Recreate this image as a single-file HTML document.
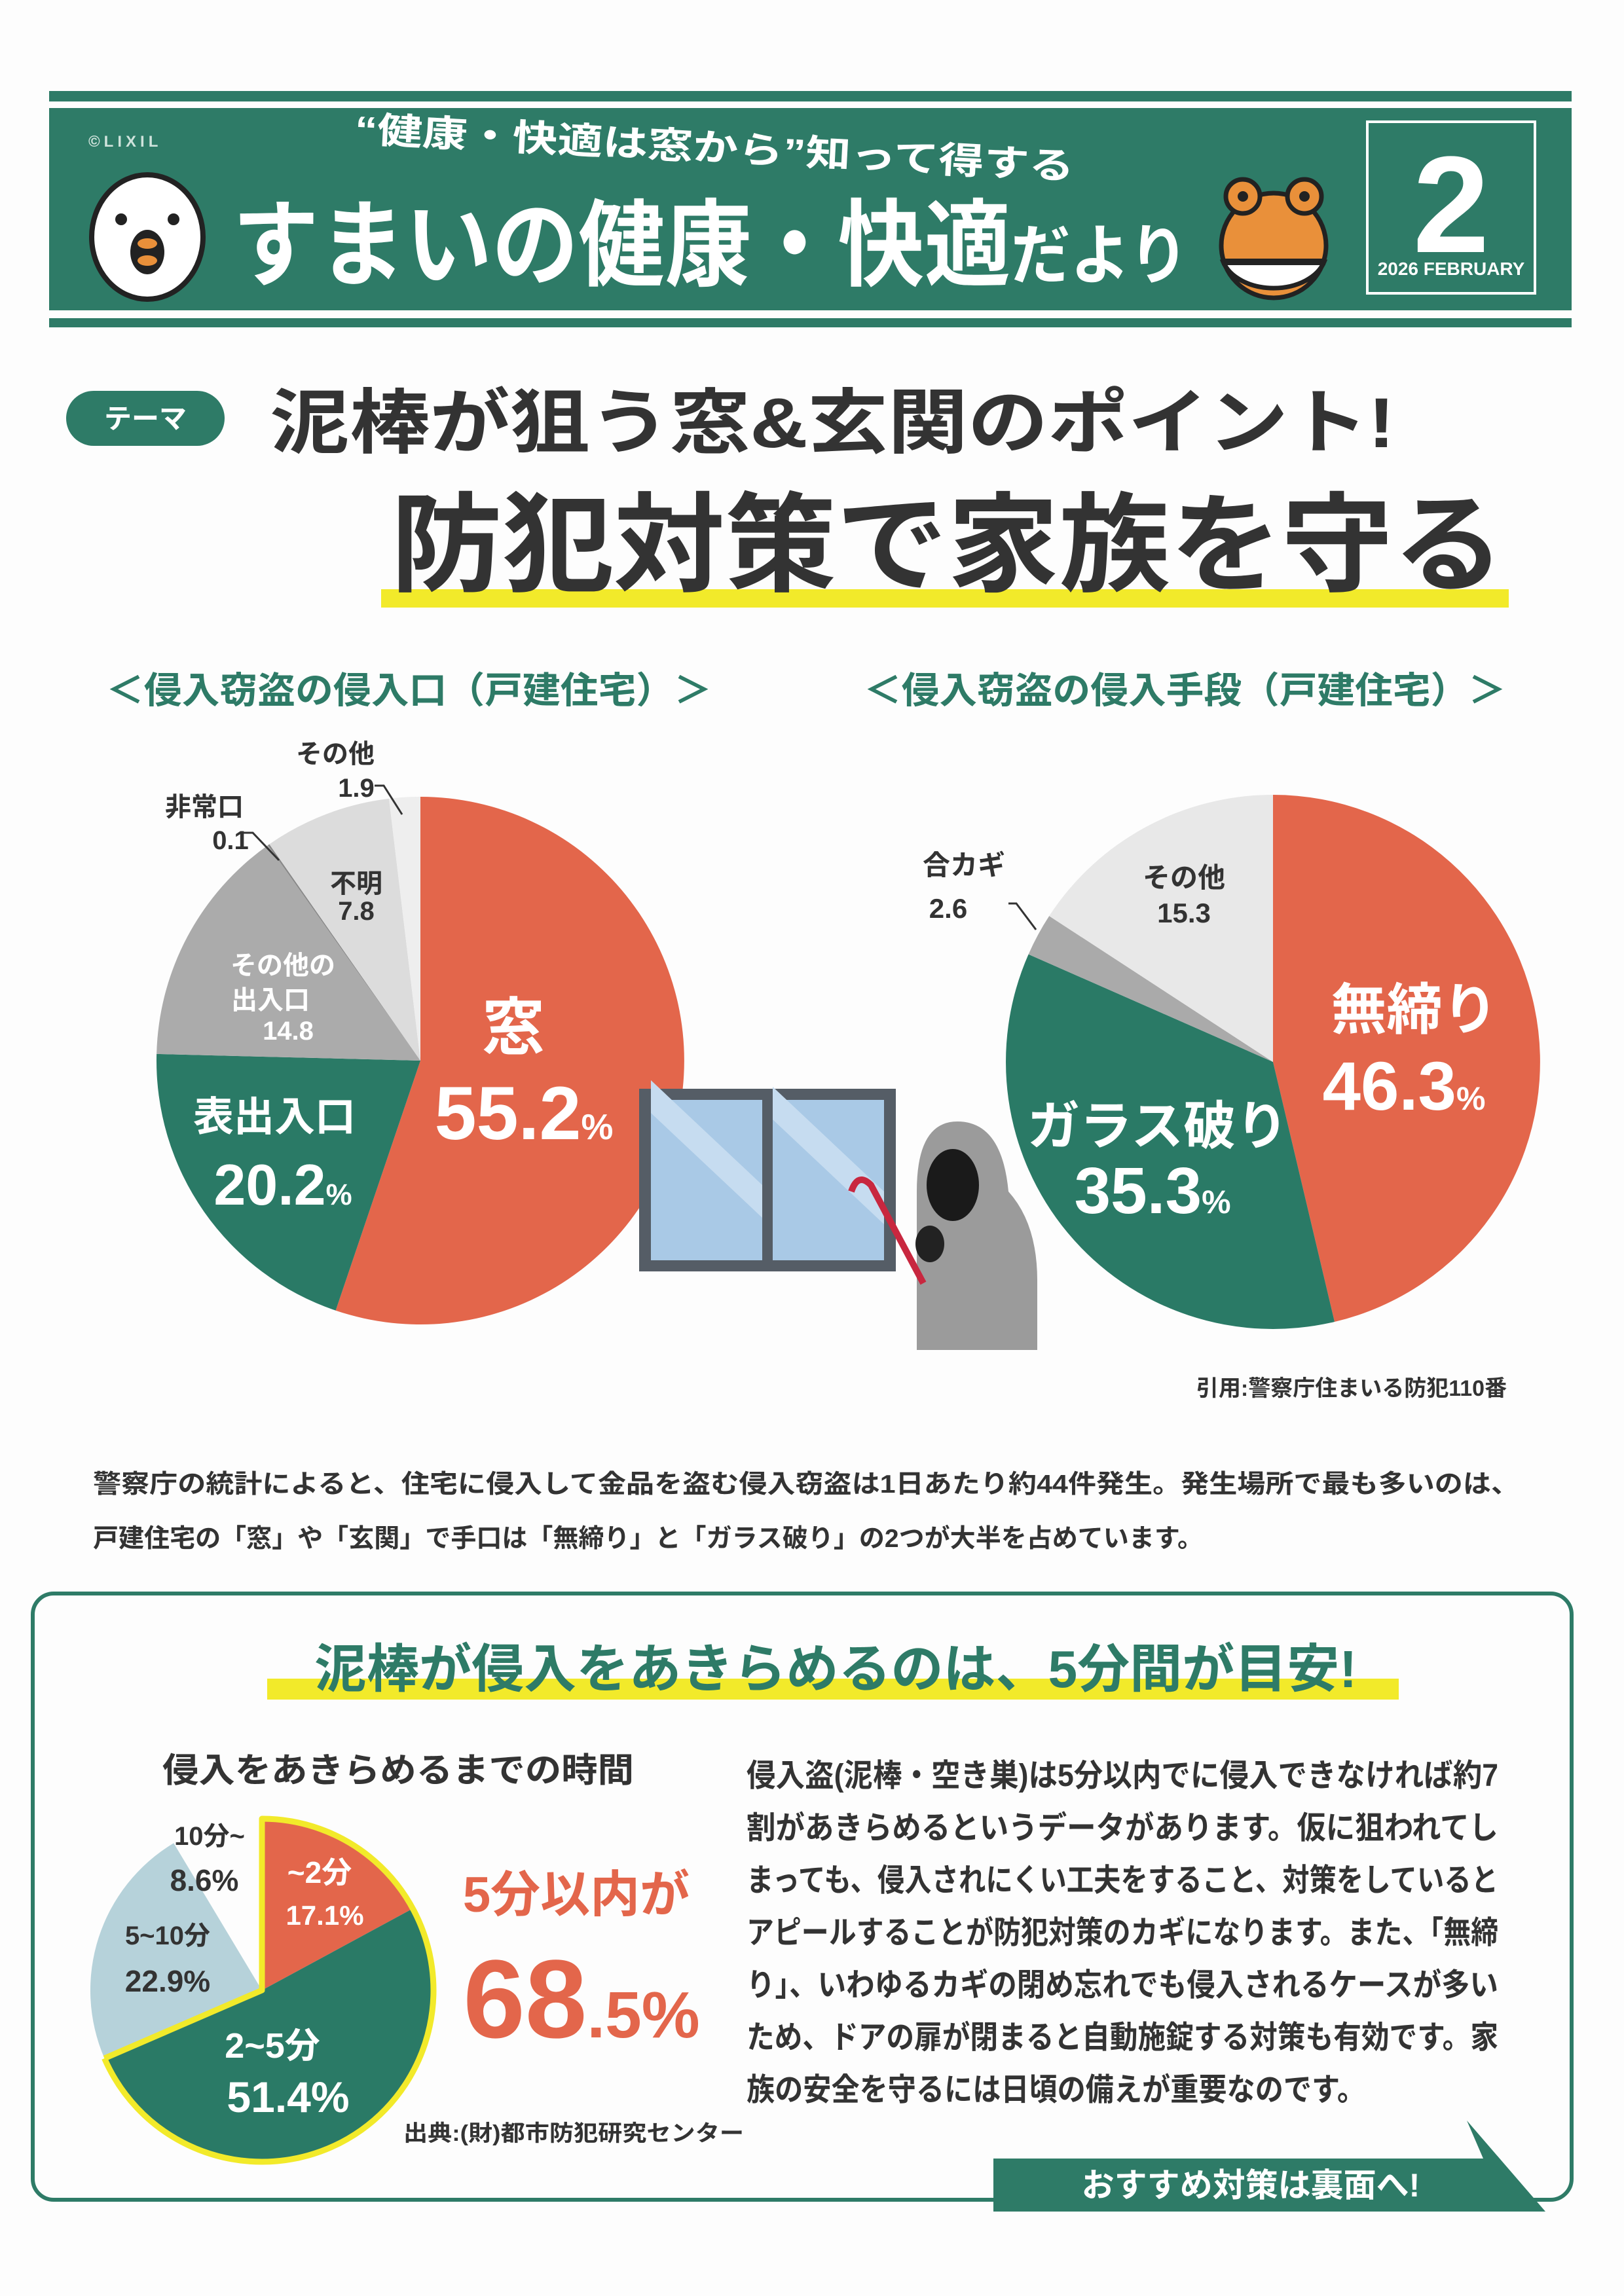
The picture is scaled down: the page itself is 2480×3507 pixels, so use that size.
<!DOCTYPE html>
<html><head><meta charset="utf-8"><style>
html,body{margin:0;padding:0;background:#fff}
svg{display:block}
text{font-family:"Liberation Sans","Noto Sans CJK JP",sans-serif;font-weight:bold}
</style></head><body>
<svg width="2480" height="3507" viewBox="0 0 2480 3507" xmlns="http://www.w3.org/2000/svg">
<rect width="2480" height="3507" fill="#fdfdfd"/>
<!-- header -->
<rect x="75" y="139" width="2325" height="16" fill="#2e7b67"/>
<rect x="75" y="165" width="2325" height="309" fill="#2e7b67"/>
<rect x="75" y="486" width="2325" height="14" fill="#2e7b67"/>
<text x="135" y="224" font-size="24" fill="#cfe3dc" font-weight="normal" letter-spacing="6">©LIXIL</text>
<text x="540" y="245" font-size="56" fill="#fff" textLength="1100" lengthAdjust="spacingAndGlyphs" transform="rotate(3 1090 245)">“健康・快適は窓から”知って得する</text>
<text x="355" y="425" font-size="145" fill="#fff" textLength="1460" lengthAdjust="spacingAndGlyphs">すまいの健康・快適<tspan font-size="100">だより</tspan></text>
<!-- chick -->
<ellipse cx="225" cy="362" rx="85" ry="95" fill="#fff" stroke="#222" stroke-width="8"/>
<circle cx="185" cy="335" r="9" fill="#222"/><circle cx="265" cy="335" r="9" fill="#222"/>
<ellipse cx="225" cy="385" rx="26" ry="34" fill="#222"/>
<ellipse cx="225" cy="372" rx="15" ry="8" fill="#e9903a"/><ellipse cx="225" cy="398" rx="15" ry="8" fill="#e9903a"/>
<!-- frog -->
<ellipse cx="1945" cy="375" rx="80" ry="80" fill="#e9903a" stroke="#222" stroke-width="7"/>
<circle cx="1898" cy="300" r="26" fill="#e9903a" stroke="#222" stroke-width="7"/>
<circle cx="1992" cy="300" r="26" fill="#e9903a" stroke="#222" stroke-width="7"/>
<circle cx="1898" cy="300" r="8" fill="#222"/><circle cx="1992" cy="300" r="8" fill="#222"/>
<path d="M1868 400 h154 a80 55 0 0 1 -154 0z" fill="#fff" stroke="#222" stroke-width="7"/>
<rect x="1866" y="395" width="158" height="10" fill="#222"/>
<!-- number box -->
<rect x="2088" y="186" width="256" height="262" fill="none" stroke="#fff" stroke-width="4"/>
<text x="2216" y="385" font-size="210" fill="#fff" text-anchor="middle" font-weight="normal">2</text>
<text x="2216" y="420" font-size="28" fill="#fff" text-anchor="middle" font-weight="normal">2026 FEBRUARY</text>
<!-- theme -->
<rect x="101" y="597" width="242" height="84" rx="42" fill="#2e7b67"/>
<text x="222" y="654" font-size="42" fill="#fff" text-anchor="middle">テーマ</text>
<text x="412" y="683" font-size="108" fill="#333" textLength="1718" lengthAdjust="spacingAndGlyphs">泥棒が狙う窓&amp;玄関のポイント!</text>
<rect x="582" y="900" width="1722" height="28" fill="#f2ea2a"/>
<text x="597" y="890" font-size="165" fill="#333" textLength="1700" lengthAdjust="spacingAndGlyphs">防犯対策で家族を守る</text>
<!-- chart titles -->
<text x="162" y="1074" font-size="56" fill="#2e7b67" textLength="925" lengthAdjust="spacingAndGlyphs">＜侵入窃盗の侵入口（戸建住宅）＞</text>
<text x="1319" y="1074" font-size="56" fill="#2e7b67" textLength="981" lengthAdjust="spacingAndGlyphs">＜侵入窃盗の侵入手段（戸建住宅）＞</text>
<!-- left pie -->
<path d="M642 1620 L642 1217 A403 403 0 1 1 512.6 2001.7Z" fill="#e3664b"/>
<path d="M642 1620 L512.6 2001.7 A403 403 0 0 1 239.1 1609.9Z" fill="#2a7a66"/>
<path d="M642 1620 L239.1 1609.9 A403 403 0 0 1 409.2 1291Z" fill="#ababab"/>
<path d="M642 1620 L409.2 1291 A403 403 0 0 1 411.3 1289.5Z" fill="#888"/>
<path d="M642 1620 L411.3 1289.5 A403 403 0 0 1 594 1219.9Z" fill="#dcdcdc"/>
<path d="M642 1620 L594 1219.9 A403 403 0 0 1 642 1217Z" fill="#eeeeee"/>
<g font-size="40" fill="#333" text-anchor="middle">
<text x="512" y="1165">その他</text><text x="544" y="1217">1.9</text>
<text x="312" y="1246">非常口</text><text x="352" y="1297">0.1</text>
<text x="544" y="1363">不明</text><text x="544" y="1405">7.8</text>
</g>
<path d="M572 1200 h14 l28 44 M372 1272 h14 l40 42" stroke="#333" stroke-width="3" fill="none"/>
<g font-size="40" fill="#fff" text-anchor="middle">
<text x="432" y="1488">その他の</text><text x="413" y="1541">出入口</text><text x="440" y="1588">14.8</text>
</g>
<text x="784" y="1602" font-size="95" fill="#fff" text-anchor="middle">窓</text>
<text x="800" y="1740" font-size="115" fill="#fff" text-anchor="middle">55.2<tspan font-size="55">%</tspan></text>
<text x="419" y="1727" font-size="62" fill="#fff" text-anchor="middle">表出入口</text>
<text x="432" y="1840" font-size="88" fill="#fff" text-anchor="middle">20.2<tspan font-size="45">%</tspan></text>
<!-- right pie -->
<path d="M1944 1622 L1944 1214 A408 408 0 0 1 2038 2019Z" fill="#e3664b"/>
<path d="M1944 1622 L2038 2019 A408 408 0 0 1 1570.6 1457.6Z" fill="#2a7a66"/>
<path d="M1944 1622 L1570.6 1457.6 A408 408 0 0 1 1602.2 1399.1Z" fill="#aaaaaa"/>
<path d="M1944 1622 L1602.2 1399.1 A408 408 0 0 1 1944 1214Z" fill="#e8e8e8"/>
<g font-size="42" fill="#333" text-anchor="middle">
<text x="1472" y="1336">合カギ</text><text x="1448" y="1402">2.6</text>
<text x="1808" y="1355">その他</text><text x="1808" y="1409">15.3</text>
</g>
<path d="M1540 1380 h12 l30 40" stroke="#333" stroke-width="3" fill="none"/>
<text x="2160" y="1572" font-size="85" fill="#fff" text-anchor="middle">無締り</text>
<text x="2144" y="1695" font-size="105" fill="#fff" text-anchor="middle">46.3<tspan font-size="50">%</tspan></text>
<text x="1768" y="1748" font-size="80" fill="#fff" text-anchor="middle">ガラス破り</text>
<text x="1760" y="1853" font-size="100" fill="#fff" text-anchor="middle">35.3<tspan font-size="50">%</tspan></text>
<!-- window -->
<rect x="976" y="1663" width="392" height="279" fill="#555d66"/>
<rect x="994" y="1680" width="170" height="245" fill="#a9c9e6"/>
<rect x="1180" y="1680" width="170" height="245" fill="#a9c9e6"/>
<path d="M994 1700 L1164 1860 L1164 1810 L994 1650Z M1180 1710 L1350 1870 L1350 1820 L1180 1660Z" fill="#c6dcf0"/>
<!-- thief -->
<path d="M1400 2062 L1400 1820 Q1400 1713 1462 1713 Q1530 1713 1540 1820 Q1585 1870 1584 1960 L1584 2062Z" fill="#9b9b9b"/>
<ellipse cx="1455" cy="1810" rx="40" ry="55" fill="#1a1a1a"/>
<path d="M1300 1820 q10 -30 30 -10 l80 150" stroke="#c8273f" stroke-width="10" fill="none"/>
<ellipse cx="1420" cy="1900" rx="22" ry="28" fill="#222"/>
<text x="2064" y="2132" font-size="34" fill="#333" text-anchor="middle">引用:警察庁住まいる防犯110番</text>
<!-- paragraph -->
<g font-size="39" fill="#333" font-weight="normal">
<text x="142" y="2280" textLength="2178" lengthAdjust="spacingAndGlyphs">警察庁の統計によると、住宅に侵入して金品を盗む侵入窃盗は1日あたり約44件発生。発生場所で最も多いのは、</text>
<text x="142" y="2363" textLength="1695" lengthAdjust="spacingAndGlyphs">戸建住宅の「窓」や「玄関」で手口は「無締り」と「ガラス破り」の2つが大半を占めています。</text>
</g>
<!-- box -->
<rect x="50" y="2434" width="2350" height="926" rx="32" fill="none" stroke="#2e7b67" stroke-width="6"/>
<rect x="408" y="2564" width="1728" height="32" fill="#f2ea2a"/>
<text x="480" y="2577" font-size="80" fill="#2e7b67" textLength="1592" lengthAdjust="spacingAndGlyphs">泥棒が侵入をあきらめるのは、5分間が目安!</text>
<text x="248" y="2722" font-size="52" fill="#333" textLength="720" lengthAdjust="spacingAndGlyphs">侵入をあきらめるまでの時間</text>
<!-- pie3 -->
<path d="M400 3040 L400 2778 A262 262 0 0 1 630.4 2915.2Z" fill="#e3664b"/>
<path d="M400 3040 L630.4 2915.2 A262 262 0 1 1 159.5 3144Z" fill="#2a7a66"/>
<path d="M400 3040 L159.5 3144 A262 262 0 0 1 265.2 2815.3Z" fill="#b6d2da"/>
<path d="M159.5 3144 L400 3040 L400 2778 A262 262 0 1 1 159.5 3144" fill="none" stroke="#f2ea2a" stroke-width="9" stroke-linejoin="round"/>
<g fill="#333" text-anchor="middle">
<text x="320" y="2818" font-size="40">10分~</text><text x="312" y="2888" font-size="46">8.6%</text>
<text x="256" y="2970" font-size="40">5~10分</text><text x="256" y="3042" font-size="46">22.9%</text>
</g>
<g fill="#fff" text-anchor="middle">
<text x="488" y="2876" font-size="46">~2分</text><text x="496" y="2940" font-size="42">17.1%</text>
<text x="416" y="3143" font-size="54">2~5分</text><text x="440" y="3226" font-size="66">51.4%</text>
</g>
<text x="880" y="2920" font-size="76" fill="#e3664b" text-anchor="middle">5分以内が</text>
<text x="888" y="3112" font-size="170" fill="#e3664b" text-anchor="middle">68<tspan font-size="100">.5%</tspan></text>
<text x="616" y="3270" font-size="34" fill="#333" font-weight="normal" textLength="520" lengthAdjust="spacingAndGlyphs">出典:(財)都市防犯研究センター</text>
<g font-size="48" fill="#333" font-weight="normal">
<text x="1140" y="2728" textLength="1148" lengthAdjust="spacingAndGlyphs">侵入盗(泥棒・空き巣)は5分以内でに侵入できなければ約7</text>
<text x="1140" y="2808" textLength="1148" lengthAdjust="spacingAndGlyphs">割があきらめるというデータがあります。仮に狙われてし</text>
<text x="1140" y="2888" textLength="1148" lengthAdjust="spacingAndGlyphs">まっても、侵入されにくい工夫をすること、対策をしていると</text>
<text x="1140" y="2968" textLength="1148" lengthAdjust="spacingAndGlyphs">アピールすることが防犯対策のカギになります。また、「無締</text>
<text x="1140" y="3048" textLength="1148" lengthAdjust="spacingAndGlyphs">り」、いわゆるカギの閉め忘れでも侵入されるケースが多い</text>
<text x="1140" y="3128" textLength="1148" lengthAdjust="spacingAndGlyphs">ため、ドアの扉が閉まると自動施錠する対策も有効です。家</text>
<text x="1140" y="3208" textLength="945" lengthAdjust="spacingAndGlyphs">族の安全を守るには日頃の備えが重要なのです。</text>
</g>
<path d="M1517 3297 L2265 3297 L2240 3239 L2360 3378 L1517 3378Z" fill="#2e7b67"/>
<text x="1910" y="3355" font-size="50" fill="#fff" text-anchor="middle">おすすめ対策は裏面へ!</text>
</svg>
</body></html>
